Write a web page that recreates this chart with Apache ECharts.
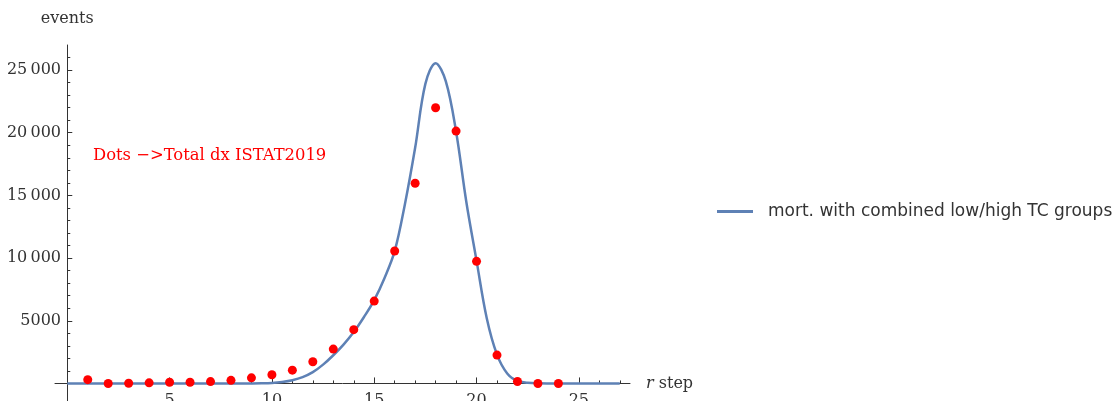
<!DOCTYPE html>
<html>
<head>
<meta charset="utf-8">
<script src="https://cdn.jsdelivr.net/npm/echarts@6/dist/echarts.min.js"></script>
<style>
  html, body { margin: 0; padding: 0; background: #fff; }
  #main { width: 1116px; height: 401px; }
</style>
</head>
<body>
<div id="main"></div>
<script>
// model curve
var curveX = [0, 4, 8, 9, 9.5, 10, 10.5, 11, 11.5, 12, 12.5, 13, 13.5, 14, 14.5, 15, 15.5, 16, 16.5, 17, 17.5, 18, 18.5, 19, 19.5, 20, 20.5, 21, 21.5, 22, 22.5, 23, 24, 27];
var curveY = [0, 0, 0, 2, 10, 40, 120, 260, 500, 900, 1500, 2250, 3100, 4100, 5300, 6650, 8400, 10550, 14300, 18800, 23900, 25550, 24100, 20100, 14500, 9800, 5200, 2300, 800, 200, 60, 15, 0, 0];

// ISTAT 2019 dots
var dotX = [1, 2, 3, 4, 5, 6, 7, 8, 9, 10, 11, 12, 13, 14, 15, 16, 17, 18, 19, 20, 21, 22, 23, 24];
var dotY = [300, 0, 20, 50, 100, 100, 150, 250, 450, 690, 1060, 1730, 2740, 4290, 6570, 10570, 15970, 21990, 20130, 9740, 2260, 160, 0, 0];

var xMajor = [5, 10, 15, 20, 25];
var xMinor = [1, 2, 3, 4, 6, 7, 8, 9, 11, 12, 13, 14, 16, 17, 18, 19, 21, 22, 23, 24, 26, 27];
var yMajor = [5000, 10000, 15000, 20000, 25000];
var yMinor = [1000, 2000, 3000, 4000, 6000, 7000, 8000, 9000, 11000, 12000, 13000, 14000, 16000, 17000, 18000, 19000, 21000, 22000, 23000, 24000, 26000];

var lineName = 'mort. with combined low/high TC groups';
var serif = 'DejaVu Serif';
var axisCol = '#333';

function fmt(v) {
  var s = String(v);
  if (v >= 10000) s = s.slice(0, s.length - 3) + '\u2009' + s.slice(-3);
  return s;
}

function pairs(xs, ys) {
  var out = [];
  for (var i = 0; i < xs.length; i++) out.push([xs[i], ys[i]]);
  return out;
}

var myChart = echarts.init(document.getElementById('main'));
var option = {
  animation: false,
  grid: { left: 55, right: 486, top: 45, bottom: 0, outerBoundsMode: 'none' },
  legend: {
    data: [lineName],
    left: 717, top: 203, padding: 0,
    icon: 'rect', itemWidth: 36, itemHeight: 3, itemGap: 10,
    textStyle: { fontFamily: 'DejaVu Sans', fontSize: 17, color: '#333', padding: [0, 0, 0, 10] }
  },
  graphic: [{
    type: 'text', left: 93, top: 148,
    style: { text: 'Dots \u2212>Total dx ISTAT2019', fill: '#ff0000', font: '16.4px "DejaVu Serif"' }
  }],
  xAxis: [{
    type: 'value', min: -0.6, max: 27.5,
    name: '{i|r} step', nameLocation: 'end', nameGap: 16,
    nameTextStyle: { fontFamily: serif, fontSize: 16, color: axisCol, rich: { i: { fontStyle: 'italic', fontFamily: serif, fontSize: 16, color: axisCol } } },
    axisLine: { onZero: true, lineStyle: { color: axisCol, width: 1 } },
    axisTick: { inside: true, length: 6, customValues: xMajor, lineStyle: { color: axisCol } },
    // labels stay at the grid edge, so pull them back up to the zero line
    axisLabel: { customValues: xMajor, margin: -8, fontFamily: serif, fontSize: 16, color: axisCol },
    splitLine: { show: false }
  }, {
    type: 'value', min: -0.6, max: 27.5, position: 'bottom',
    axisLine: { show: false, onZero: true },
    axisTick: { inside: true, length: 3, customValues: xMinor, lineStyle: { color: axisCol } },
    axisLabel: { show: false },
    splitLine: { show: false }
  }],
  yAxis: [{
    type: 'value', min: -1400, max: 27000,
    name: 'events', nameLocation: 'end', nameGap: 18,
    nameTextStyle: { fontFamily: serif, fontSize: 16, color: axisCol, align: 'center' },
    axisLine: { show: true, onZero: true, lineStyle: { color: axisCol, width: 1 } },
    axisTick: { show: true, inside: true, length: 5, customValues: yMajor, lineStyle: { color: axisCol } },
    axisLabel: { customValues: yMajor, margin: -6, formatter: fmt, fontFamily: serif, fontSize: 16, color: axisCol },
    splitLine: { show: false }
  }, {
    type: 'value', min: -1400, max: 27000, position: 'left',
    axisLine: { show: false, onZero: true },
    axisTick: { show: true, inside: true, length: 3, customValues: yMinor, lineStyle: { color: axisCol } },
    axisLabel: { show: false },
    splitLine: { show: false }
  }],
  series: [{
    name: lineName,
    type: 'line',
    data: pairs(curveX, curveY),
    smooth: 0.35,
    showSymbol: false,
    lineStyle: { color: '#5e81b5', width: 2.5 },
    itemStyle: { color: '#5e81b5' },
    z: 2
  }, {
    name: 'dots',
    type: 'scatter',
    data: pairs(dotX, dotY),
    symbolSize: 9,
    itemStyle: { color: '#ff0000', opacity: 1 },
    z: 3
  }]
};
myChart.setOption(option);
</script>
</body>
</html>
